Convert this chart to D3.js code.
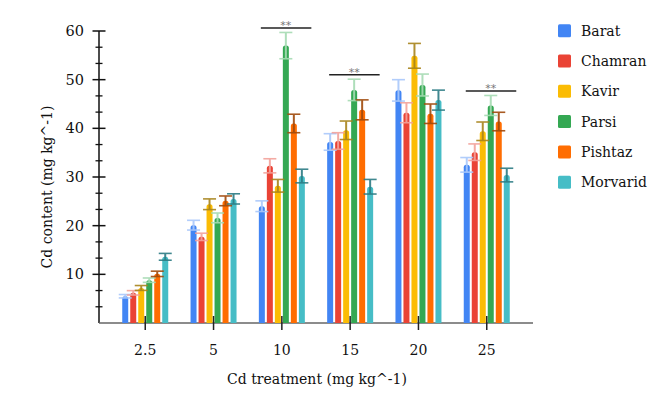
<!DOCTYPE html>
<html><head><meta charset="utf-8">
<script src="https://cdn.jsdelivr.net/npm/d3@7/dist/d3.min.js"></script>
<style>body{margin:0;background:#fff}svg{display:block}text{font-family:Georgia,"DejaVu Serif",serif;fill:#111}</style>
</head><body><svg id="c" width="669" height="417"></svg>
<script>
const categories = ["2.5","5","10","15","20","25"];
const seriesNames = ["Barat","Chamran","Kavir","Parsi","Pishtaz","Morvarid"];
const barat    = [5.5, 20.1, 24.0, 37.2, 47.8, 32.5];
const chamran  = [6.2, 17.7, 32.3, 37.4, 43.2, 35.1];
const kavir    = [7.2, 24.4, 28.2, 39.6, 54.9, 39.4];
const parsi    = [8.8, 21.6, 57.0, 47.9, 48.9, 44.7];
const pishtaz  = [10.1, 25.1, 41.0, 43.8, 43.0, 41.4];
const morvarid = [13.6, 25.5, 30.2, 28.0, 45.8, 30.4];
const baratErr    = [0.35, 1.0, 1.1, 1.7, 2.2, 1.5];
const chamranErr  = [0.45, 0.75, 1.45, 1.7, 2.05, 1.7];
const kavirErr    = [0.5, 1.1, 1.3, 1.9, 2.55, 1.9];
const parsiErr    = [0.45, 1.0, 2.7, 2.2, 2.25, 2.05];
const pishtazErr  = [0.55, 1.0, 1.9, 2.05, 2.0, 1.9];
const morvaridErr = [0.7, 1.05, 1.4, 1.5, 2.05, 1.4];
const sigGroups = ["10","15","25"];
const sigLabel = "**";
const yTickValues = [10,20,30,40,50,60];
const xTitle = "Cd treatment (mg kg^-1)";
const yTitle = "Cd content (mg kg^-1)";

const values = [barat, chamran, kavir, parsi, pishtaz, morvarid];
const errors = [baratErr, chamranErr, kavirErr, parsiErr, pishtazErr, morvaridErr];
const colors = ["#4285F4","#EA4335","#FBBC04","#34A853","#FF6D01","#46BDC6"];
const capColors = ["#a9c8fb","#f3a29b","#a8841c","#a6dbb3","#a04a0c","#2c7c84"];

const svg = d3.select("#c");
const y = d3.scaleLinear().domain([0,60]).range([323,31]);
const x = d3.scalePoint().domain(categories).range([99,533]).padding(0.677);
const stride = 8, bw = 6;

// y axis
const ya = svg.append("g");
ya.append("line").attr("x1",99).attr("x2",99).attr("y1",y(60)).attr("y2",y(0)).attr("stroke","#111").attr("stroke-width",1.5);
const minor = d3.range(1,18).map(i=>i*10/3).filter(v=>Math.abs(v/10-Math.round(v/10))>0.01);
ya.selectAll(".mi").data(minor).join("line").attr("x1",95.5).attr("x2",102.5).attr("y1",d=>y(d)).attr("y2",d=>y(d)).attr("stroke","#111").attr("stroke-width",1.3);
ya.selectAll(".ma").data(yTickValues).join("line").attr("x1",92.5).attr("x2",105.5).attr("y1",d=>y(d)).attr("y2",d=>y(d)).attr("stroke","#111").attr("stroke-width",1.5);
ya.selectAll(".yl").data(yTickValues).join("text").attr("x",84).attr("y",d=>y(d)).attr("dy","0.35em").attr("text-anchor","end").style("font-size","14.5px").text(d=>d);

// x axis
svg.append("line").attr("x1",99).attr("x2",533).attr("y1",323).attr("y2",323).attr("stroke","#666").attr("stroke-width",1.5);

// bars
categories.forEach((c,ci)=>{
  values.forEach((s,si)=>{
    const cx = x(c) + (si-2.5)*stride;
    const v = s[ci];
    const top = y(v), r = 2.5;
    svg.append("path").attr("fill",colors[si])
      .attr("d",`M${cx-bw/2},${y(0)}V${top+r}Q${cx-bw/2},${top} ${cx-bw/2+r},${top}H${cx+bw/2-r}Q${cx+bw/2},${top} ${cx+bw/2},${top+r}V${y(0)}Z`);
  });
});
categories.forEach((c,ci)=>{
  values.forEach((s,si)=>{
    const cx = x(c) + (si-2.5)*stride;
    const v = s[ci], e = errors[si][ci];
    const g = svg.append("g").attr("stroke",capColors[si]).attr("stroke-width",1.6).attr("opacity",0.9);
    g.append("line").attr("x1",cx).attr("x2",cx).attr("y1",y(v+e)).attr("y2",y(v-e)).attr("stroke-width",2);
    g.append("line").attr("x1",cx-6.5).attr("x2",cx+6.5).attr("y1",y(v+e)).attr("y2",y(v+e));
    g.append("line").attr("x1",cx-6.5).attr("x2",cx+6.5).attr("y1",y(v-e)).attr("y2",y(v-e));
  });
});

// x ticks and labels
svg.selectAll(".xt").data(categories).join("line").attr("x1",d=>x(d)).attr("x2",d=>x(d)).attr("y1",316).attr("y2",330).attr("stroke","#222").attr("stroke-width",1.5);
svg.selectAll(".xl").data(categories).join("text").attr("x",d=>x(d)).attr("y",350).attr("dy","0.35em").attr("text-anchor","middle").style("font-size","14px").text(d=>d);

// significance
sigGroups.forEach(c=>{
  const ci = categories.indexOf(c);
  const hi = d3.max(values.map((s,si)=>s[ci]+errors[si][ci]));
  const ly = y(hi)-4.5;
  svg.append("line").attr("x1",x(c)-21).attr("x2",x(c)+29.5).attr("y1",ly).attr("y2",ly).attr("stroke","#222").attr("stroke-width",1.6);
  svg.append("text").attr("x",x(c)+4).attr("y",ly+1).attr("text-anchor","middle").style("font-size","11px").style("font-family","'DejaVu Sans',sans-serif").style("fill","#777").text(sigLabel);
});

// titles
svg.append("text").attr("x",317).attr("y",379).attr("dy","0.35em").attr("text-anchor","middle").style("font-size","14px").text(xTitle);
svg.append("text").attr("transform","translate(47,187) rotate(-90)").attr("dy","0.35em").attr("text-anchor","middle").style("font-size","14px").text(yTitle);

// legend
const lg = svg.append("g");
seriesNames.forEach((n,i)=>{
  const ly = 30.7 + i*30.3;
  lg.append("rect").attr("x",558).attr("y",ly-6.5).attr("width",13).attr("height",13).attr("rx",1.5).attr("fill",colors[i]);
  lg.append("text").attr("x",581).attr("y",ly).attr("dy","0.35em").style("font-size","14px").text(n);
});
</script></body></html>
